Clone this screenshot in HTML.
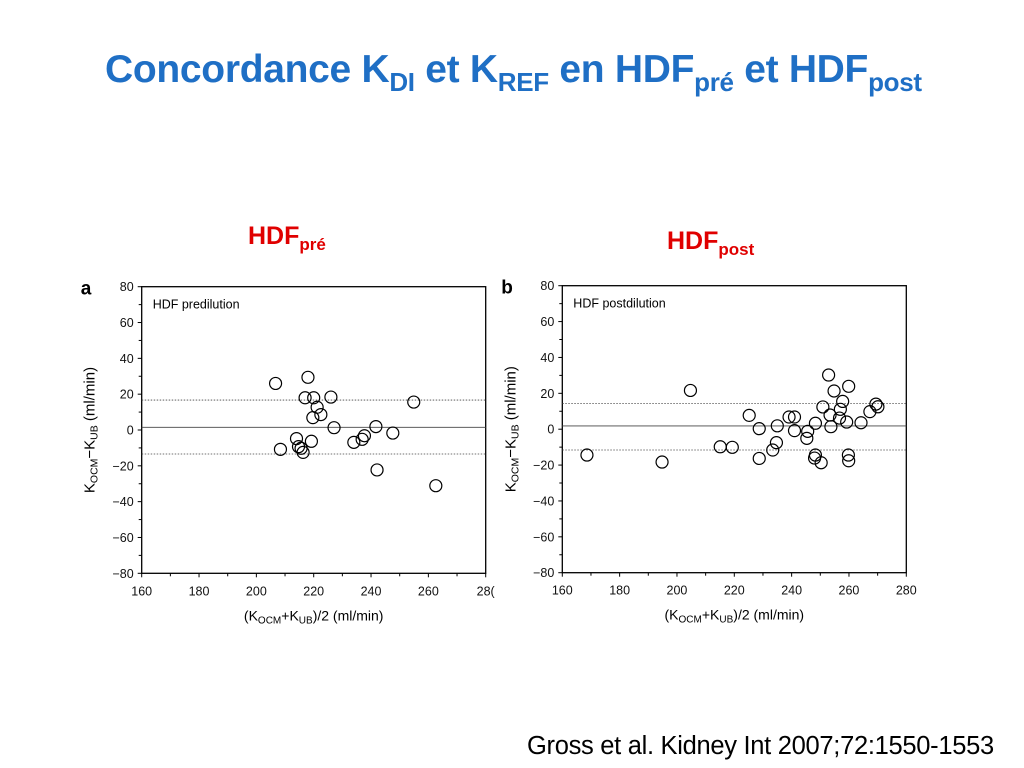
<!DOCTYPE html>
<html><head><meta charset="utf-8"><style>
body{margin:0;width:1024px;height:768px;background:#fff;font-family:"Liberation Sans",sans-serif;overflow:hidden;position:relative}
.t{position:absolute;white-space:nowrap}
</style></head><body>
<div class="t" style="left:105px;top:48px;font-size:39px;font-weight:bold;color:#1f6fc5;letter-spacing:-0.3px">Concordance K<sub style="font-size:26px">DI</sub> et K<sub style="font-size:26px">REF</sub> en HDF<sub style="font-size:26px">pré</sub> et HDF<sub style="font-size:26px">post</sub></div>
<div class="t" style="left:248px;top:222px;font-size:25px;font-weight:bold;color:#e00000">HDF<sub style="font-size:17px">pré</sub></div>
<div class="t" style="left:667px;top:227px;font-size:25px;font-weight:bold;color:#e00000">HDF<sub style="font-size:17px">post</sub></div>
<div class="t" style="left:527px;top:732px;font-size:25.5px;color:#000;letter-spacing:-0.3px">Gross et al. Kidney Int 2007;72:1550-1553</div>
<svg id="chart" width="1024" height="768" style="position:absolute;left:0;top:0"></svg>
<script>
const xTicks=[160,180,200,220,240,260,280];
const yTicks=[80,60,40,20,0,-20,-40,-60,-80];
const aX=[206.7,218,217,220,221.2,222.5,219.7,226,227.1,254.9,208.4,214,214.7,215.6,216.3,219.2,234,236.9,237.7,241.7,247.6,242.1,262.6];
const aY=[26,29.4,18,18,12.7,8.6,6.9,18.4,1.3,15.6,-10.8,-4.8,-9.3,-10.2,-12.5,-6.3,-6.9,-5.2,-3.2,1.9,-1.7,-22.3,-31.1];
const aLines=[1.5,16.7,-13.4];
const bX=[168.6,194.8,204.7,215.1,219.3,225.2,228.7,228.7,233.4,234.7,235,239.1,241,241,245.6,245.3,248.3,248.3,248,250.3,250.9,252.9,253.4,253.7,254.8,257,257.8,256.7,259.2,259.9,259.8,259.9,264.2,267.3,269.4,270.1];
const bY=[-14.4,-18.3,21.6,-9.8,-10.1,7.7,0.3,-16.3,-11.6,-7.5,1.9,6.8,6.8,-0.8,-1.2,-5.1,3.3,-14.4,-16.1,-18.7,12.4,30.2,7.9,1.4,21.3,11.1,15.5,6.2,4,23.9,-14.4,-17.6,3.6,9.8,14,12.5];
const bLines=[1.8,14.4,-11.6];
const NS='http://www.w3.org/2000/svg';
const svg=document.getElementById('chart');
function mk(tag,attrs,parent){const e=document.createElementNS(NS,tag);for(const k in attrs)e.setAttribute(k,attrs[k]);(parent||svg).appendChild(e);return e;}
function panel(id,x0,x1,y0,y1,xs,ys,lines,letter,label,xLast){
  const g=mk('g',{});
  
  
  const sx=v=>x0+(v-160)/120*(x1-x0);
  const sy=v=>y0+(80-v)/160*(y1-y0);
  const fr=mk('rect',{x:x0,y:y0,width:x1-x0,height:y1-y0,fill:'none',stroke:'#000','stroke-width':1.3},g);
  
  
  lines.forEach((v,i)=>{const l=mk('line',{x1:x0,x2:x1,y1:sy(v),y2:sy(v),stroke:'#444','stroke-width':i?0.8:0.9,'stroke-dasharray':i?'1.5,1.5':''},g);
    
    });
  xTicks.forEach((v,i)=>{mk('line',{x1:sx(v),x2:sx(v),y1:y1,y2:y1+4,stroke:'#000'},g);
    if(i<xTicks.length-1)mk('line',{x1:sx(v+10),x2:sx(v+10),y1:y1,y2:y1+3,stroke:'#000'},g);
    const t=mk('text',{x:sx(v),y:y1+22,'text-anchor':'middle','font-size':12.5,fill:'#111'},g);
    
    
    t.textContent=(i==xTicks.length-1&&xLast)?xLast:v;});
  yTicks.forEach((v,i)=>{mk('line',{x1:x0-4,x2:x0,y1:sy(v),y2:sy(v),stroke:'#000'},g);
    if(i<yTicks.length-1)mk('line',{x1:x0-3,x2:x0,y1:sy(v-10),y2:sy(v-10),stroke:'#000'},g);
    const t=mk('text',{x:x0-8,y:sy(v)+4.5,'text-anchor':'end','font-size':12.5,fill:'#111'},g);
    
    
    t.textContent=v<0?'\u2212'+(-v):v;});
  xs.forEach((v,i)=>{const c=mk('circle',{cx:sx(v),cy:sy(ys[i]),r:6,fill:'none',stroke:'#000','stroke-width':1.2},g);
    
    });
  const lt=mk('text',{x:x0-61,y:y0+8,'font-size':19,'font-weight':'bold'},g);
  
  
  lt.textContent=letter;
  const lb=mk('text',{x:x0+11,y:y0+22,'font-size':12.5},g);
  
  
  lb.textContent=label;
  const xt=mk('text',{x:(x0+x1)/2,y:y1+47,'text-anchor':'middle','font-size':14},g);
  
  
  xt.innerHTML='(K<tspan font-size="10" dy="3">OCM</tspan><tspan dy="-3">+K</tspan><tspan font-size="10" dy="3">UB</tspan><tspan dy="-3">)/2 (ml/min)</tspan>';
  const yt=mk('text',{x:0,y:0,'text-anchor':'middle','font-size':15,transform:`translate(${x0-47},${(y0+y1)/2}) rotate(-90)`},g);
  
  
  yt.innerHTML='K<tspan font-size="10.5" dy="3">OCM</tspan><tspan dy="-3">\u2212K</tspan><tspan font-size="10.5" dy="3">UB</tspan><tspan dy="-3"> (ml/min)</tspan>';
}
panel('a',141.7,485.7,286.7,573.3,aX,aY,aLines,'a','HDF predilution','28(');
panel('b',562.3,906.3,285.7,572.7,bX,bY,bLines,'b','HDF postdilution',null);
</script>
</body></html>
